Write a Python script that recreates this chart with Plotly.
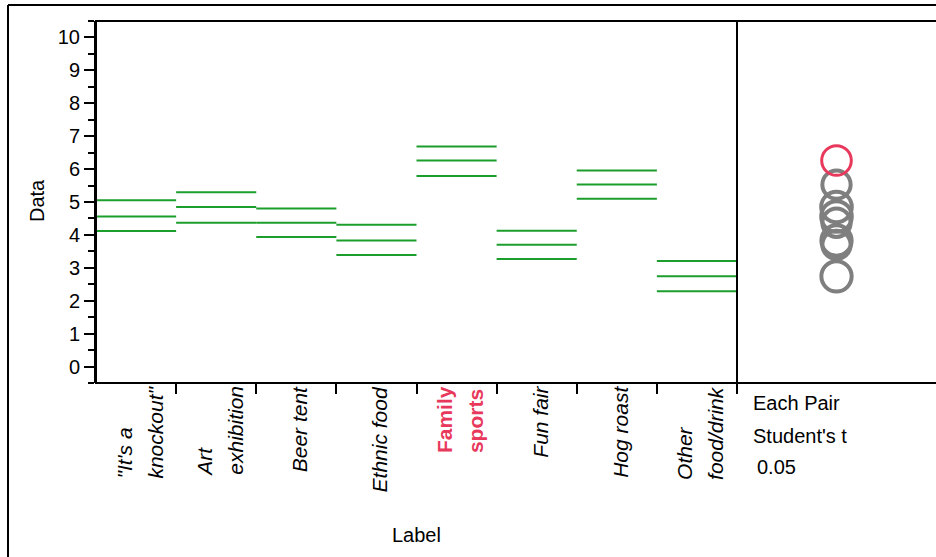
import plotly.graph_objects as go

# ---------------- data ----------------
categories = ['"It\'s a\nknockout"', "Art\nexhibition", "Beer tent", "Ethnic food",
              "Family\nsports", "Fun fair", "Hog roast", "Other\nfood/drink"]
upper_ci = [5.05, 5.30, 4.80, 4.31, 6.69, 4.13, 5.96, 3.21]
means    = [4.56, 4.85, 4.37, 3.83, 6.26, 3.70, 5.53, 2.74]
lower_ci = [4.12, 4.37, 3.94, 3.39, 5.79, 3.27, 5.10, 2.29]
highlight = "Family\nsports"
y_ticks = list(range(0, 11))
y_minor = [v + 0.5 for v in range(-1, 11)]
y_range = [-0.5, 10.5]
method_text = ["Each Pair", "Student's t", "0.05"]

# ---------------- layout geometry ----------------
W, H = 936, 557
ML, MT, MR, MB = 96, 21, 0, 174
plot_w = W - ML - MR
plot_h = H - MT - MB
split_px = 737
dom = (split_px - ML) / plot_w
ppu = plot_h / (y_range[1] - y_range[0])

def px(x):
    return (x - ML) / plot_w

def py(y):
    return (H - MB - y) / plot_h

GREEN = "#1c9e2c"
RED = "#e8395c"
GRAY = "#7f7f7f"
FONT = "Liberation Sans, Arial, sans-serif"

fig = go.Figure()

# mean / CI lines
n = len(categories)
for vals in (upper_ci, means, lower_ci):
    xs, ys = [], []
    for i, v in enumerate(vals):
        xs += [i - 0.5, i + 0.5, None]
        ys += [v, v, None]
    fig.add_trace(go.Scatter(x=xs, y=ys, mode="lines", line=dict(color=GREEN, width=2),
                             showlegend=False, hoverinfo="skip"))

# comparison circles
hi = categories.index(highlight)
order = [i for i in range(n) if i != hi] + [hi]
for i in order:
    is_hi = i == hi
    d = (upper_ci[i] - lower_ci[i]) * ppu
    fig.add_trace(go.Scatter(
        x=[0.5], y=[means[i]], xaxis="x2", yaxis="y", mode="markers",
        marker=dict(symbol="circle-open", size=d,
                    color=RED if is_hi else GRAY,
                    line=dict(color=RED if is_hi else GRAY, width=3 if is_hi else 4)),
        showlegend=False, hoverinfo="skip"))

annotations = []
for i, lab in enumerate(categories):
    lines = ["<span style='font-size:21px'>" + ln + "</span>" for ln in lab.split("\n")]
    txt = "<br>".join(lines)
    if lab == highlight:
        txt = "<b>" + txt + "</b>"
        col = RED
    else:
        txt = "<i>" + txt + "</i>"
        col = "black"
    # base font size 24 gives ~31px line spacing, text drawn at 21px
    annotations.append(dict(x=i, y=0, xref="x", yref="paper", text=txt, showarrow=False,
                            textangle=-90, xanchor="center", yanchor="top", align="left",
                            yshift=-1, xshift=3,
                            font=dict(family=FONT, size=24, color=col)))

# axis titles
annotations.append(dict(x=px(37), y=py(201), xref="paper", yref="paper", text="Data",
                        showarrow=False, textangle=-90, xanchor="center", yanchor="middle",
                        font=dict(family=FONT, size=20, color="black")))
annotations.append(dict(x=dom / 2, y=py(535), xref="paper", yref="paper", text="Label",
                        showarrow=False, xanchor="center", yanchor="middle",
                        font=dict(family=FONT, size=20, color="black")))
# method text
for k, (t, yc, xl) in enumerate(zip(method_text, [403, 436, 467], [751, 751, 755])):
    annotations.append(dict(x=px(xl), y=py(yc), xref="paper", yref="paper", text=t,
                            showarrow=False, xanchor="left", yanchor="middle",
                            font=dict(family=FONT, size=20, color="black")))

edge = dict(color="black", width=2)
shapes = [
    # outer frame (top and left edges visible in the window)
    dict(type="line", xref="paper", yref="paper", x0=px(8), x1=px(W + 20), y0=py(5), y1=py(5),
         line=edge),
    dict(type="line", xref="paper", yref="paper", x0=px(8), x1=px(8), y0=py(5), y1=py(H + 20),
         line=edge),
    # main panel frame
    dict(type="rect", xref="paper", yref="paper", x0=0, x1=dom, y0=0, y1=1,
         line=dict(color="black", width=2)),
    # right panel top / bottom
    dict(type="line", xref="paper", yref="paper", x0=dom, x1=px(W + 20), y0=1, y1=1,
         line=dict(color="black", width=2)),
    dict(type="line", xref="paper", yref="paper", x0=dom, x1=px(W + 20), y0=0, y1=0,
         line=dict(color="black", width=2)),
]

fig.update_layout(
    width=W, height=H,
    margin=dict(l=ML, r=MR, t=MT, b=MB),
    paper_bgcolor="white", plot_bgcolor="white",
    showlegend=False,
    xaxis=dict(domain=[0, dom], range=[-0.5, n - 0.5], tickmode="array",
               tickvals=[i + 0.5 for i in range(n)], ticktext=[""] * n,
               ticks="outside", ticklen=10, tickwidth=2, tickcolor="black",
               showgrid=False, zeroline=False, showline=False),
    xaxis2=dict(domain=[dom, 1], range=[0, 1], anchor="y", visible=False),
    yaxis=dict(range=y_range, tickmode="array", tickvals=y_ticks,
               ticktext=[str(v) for v in y_ticks],
               ticks="outside", ticklen=10, tickwidth=2, tickcolor="black",
               minor=dict(tickmode="array", tickvals=y_minor, ticks="outside",
                          ticklen=6, tickwidth=2, tickcolor="black"),
               showgrid=False, zeroline=False, showline=True, linewidth=2, linecolor="black",
               tickfont=dict(family=FONT, size=20, color="black")),
    annotations=annotations,
    shapes=shapes,
)

fig.write_html("out.html", config={"displayModeBar": False},
               post_script="document.body.style.margin='0';document.body.style.overflow='hidden';")
